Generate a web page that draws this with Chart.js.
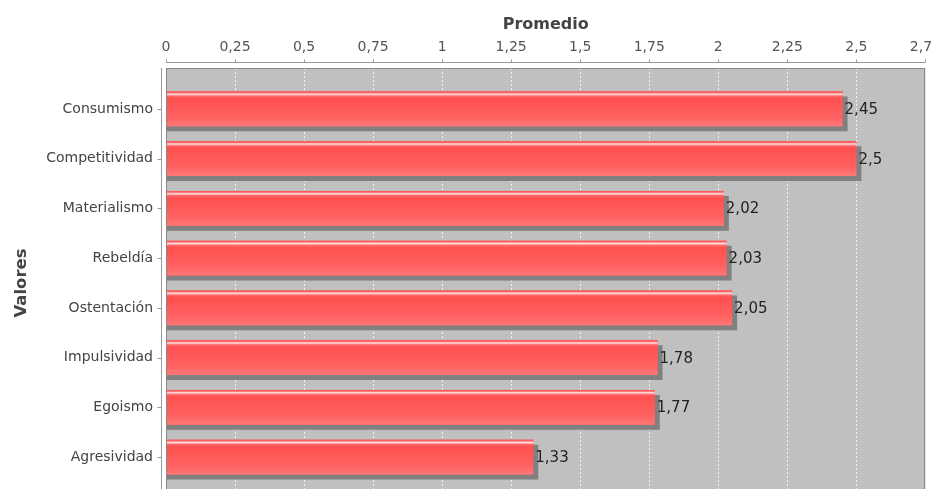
<!DOCTYPE html>
<html>
<head>
<meta charset="utf-8">
<script src="https://cdn.jsdelivr.net/npm/chart.js@4/dist/chart.umd.min.js"></script>
<style>
  html, body { margin: 0; padding: 0; background: #fff; }
  #frame { width: 933px; height: 489px; overflow: hidden; position: relative; }
  #box { width: 961px; height: 505px; position: absolute; left: 0; top: 0; }
</style>
</head>
<body>
<div id="frame"><div id="box"><canvas id="chart"></canvas></div></div>
<script>
const categories = ['Consumismo', 'Competitividad', 'Materialismo', 'Rebeldía', 'Ostentación', 'Impulsividad', 'Egoismo', 'Agresividad'];
const promedio = [2.45, 2.5, 2.02, 2.03, 2.05, 1.78, 1.77, 1.33];
const axisMax = 2.75;
const tickStep = 0.25;

const FONT = 'DejaVu Sans, Tahoma, sans-serif';
const MARGIN = 16; // category margin above/below the bars, inside the plot
const SHADOW = 5;

const fmt = v => String(Math.round(v * 100) / 100).replace('.', ',');

// plot background, dashed gridlines, outline and offset axis lines (JFreeChart look)
const plotDeco = {
  id: 'plotDeco',
  beforeDatasetsDraw(chart) {
    const { ctx, chartArea: a, scales: { x } } = chart;
    const top = a.top - MARGIN, bottom = a.bottom + MARGIN;
    ctx.save();
    ctx.fillStyle = '#c0c0c0';
    ctx.fillRect(a.left, top, a.right - a.left, bottom - top);
    ctx.strokeStyle = '#f2f2f2';
    ctx.lineWidth = 1;
    ctx.setLineDash([2, 2]);
    x.ticks.forEach(t => {
      const px = Math.round(x.getPixelForValue(t.value)) + 0.5;
      if (px <= a.left + 1 || px >= a.right - 1) return;
      ctx.beginPath();
      ctx.moveTo(px, top);
      ctx.lineTo(px, bottom);
      ctx.stroke();
    });
    ctx.setLineDash([]);
    // bar shadows
    const meta = chart.getDatasetMeta(0);
    ctx.fillStyle = '#808080';
    meta.data.forEach(bar => {
      ctx.fillRect(bar.base, bar.y - bar.height / 2 + SHADOW, bar.x - bar.base + SHADOW, bar.height);
    });
    ctx.restore();
  },
  afterDatasetsDraw(chart) {
    const { ctx, chartArea: a, scales: { x, y } } = chart;
    const top = a.top - MARGIN, bottom = a.bottom + MARGIN;
    const meta = chart.getDatasetMeta(0);
    ctx.save();
    // glossy gradient on bars
    meta.data.forEach((bar, i) => {
      const t = bar.y - bar.height / 2, h = bar.height;
      const g = ctx.createLinearGradient(0, t, 0, t + h);
      g.addColorStop(0, '#ff4c4c');
      g.addColorStop(0.04, '#ff7070');
      g.addColorStop(0.08, '#ffe6e6');
      g.addColorStop(0.13, '#ff6a6a');
      g.addColorStop(0.2, '#ff5050');
      g.addColorStop(0.75, '#ff6262');
      g.addColorStop(1, '#ff7878');
      ctx.fillStyle = g;
      ctx.fillRect(bar.base, t, bar.x - bar.base, h);
      // value label
      ctx.fillStyle = '#222';
      ctx.font = '15px ' + FONT;
      ctx.textAlign = 'left';
      ctx.textBaseline = 'middle';
      ctx.fillText(fmt(promedio[i]), bar.x + 2, bar.y + 1);
    });
    // plot outline
    ctx.strokeStyle = '#8a8a8a';
    ctx.lineWidth = 1;
    ctx.strokeRect(Math.round(a.left) + 0.5, Math.round(top) + 0.5, Math.round(a.right - a.left) - 1, Math.round(bottom - top));
    // top axis line and tick marks
    ctx.strokeStyle = '#999';
    const ay = Math.round(top) - 6 + 0.5;
    ctx.beginPath();
    ctx.moveTo(a.left, ay);
    ctx.lineTo(a.right, ay);
    x.ticks.forEach(t => {
      const px = Math.round(x.getPixelForValue(t.value)) + 0.5;
      ctx.moveTo(px, ay);
      ctx.lineTo(px, ay - 3);
    });
    // left axis line and tick marks
    const ax = Math.round(a.left) - 5 + 0.5;
    ctx.moveTo(ax, top);
    ctx.lineTo(ax, bottom);
    y.ticks.forEach((t, i) => {
      const py = Math.round(y.getPixelForTick(i)) + 0.5;
      ctx.moveTo(ax, py);
      ctx.lineTo(ax - 4, py);
    });
    ctx.stroke();
    ctx.restore();
  }
};

new Chart(document.getElementById('chart'), {
  type: 'bar',
  data: {
    labels: categories,
    datasets: [{
      label: 'Promedio',
      data: promedio,
      backgroundColor: '#ff5555',
      borderWidth: 0,
      barPercentage: 0.7,
      categoryPercentage: 1.0
    }]
  },
  options: {
    indexAxis: 'y',
    responsive: true,
    maintainAspectRatio: false,
    animation: false,
    layout: { padding: { left: 0, right: 10, top: 0, bottom: 23 } },
    plugins: {
      legend: { display: false },
      tooltip: { enabled: false }
    },
    scales: {
      x: {
        position: 'top',
        min: 0,
        max: axisMax,
        afterFit: s => { s.height = 84; },
        border: { display: false },
        grid: { display: false },
        ticks: {
          stepSize: tickStep,
          padding: 20,
          maxRotation: 0,
          autoSkip: false,
          color: '#555',
          font: { family: FONT, size: 14 },
          callback: v => fmt(v)
        },
        title: {
          display: true,
          text: 'Promedio',
          color: '#444',
          font: { family: FONT, size: 16, weight: 'bold' },
          padding: { top: 15, bottom: 0 }
        }
      },
      y: {
        afterFit: s => { s.width = 166; },
        border: { display: false },
        grid: { display: false },
        ticks: {
          padding: 5,
          color: '#444',
          font: { family: FONT, size: 14 }
        },
        title: {
          display: true,
          text: 'Valores',
          color: '#444',
          font: { family: FONT, size: 16.5, weight: 'bold' },
          padding: { top: 12, bottom: 0 }
        }
      }
    }
  },
  plugins: [plotDeco]
});
</script>
</body>
</html>
